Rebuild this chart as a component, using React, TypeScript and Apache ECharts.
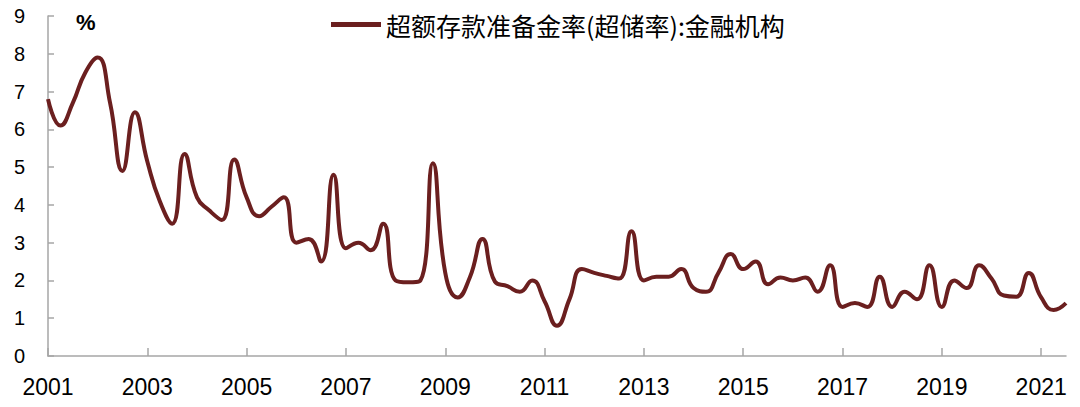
import React, { useEffect, useRef } from "react";
import * as echarts from "echarts";

const years: number[] = [];
for (let y = 2001; y <= 2021; y++) years.push(y);

const quarters: string[] = [];
years.forEach((y) => {
  ["Q1", "Q2", "Q3", "Q4"].forEach((q) => quarters.push(`${y}${q}`));
});
const categories = quarters.slice(0, 83);

const seriesName = "超额存款准备金率(超储率):金融机构";

const excessReserveRatio = [
  6.8, 6.1, 6.7, 7.5, 7.9, 6.7, 4.9, 6.45,
  5.15, 4.1, 3.5, 5.35, 4.2, 3.85, 3.6, 5.2,
  4.2, 3.7, 3.95, 4.2, 3.0, 3.1, 2.5, 4.8,
  2.85, 3.0, 2.8, 3.5, 2.0, 1.95, 2.0, 5.1,
  2.2, 1.55, 2.1, 3.1, 1.97, 1.85, 1.7, 2.0,
  1.45, 0.8, 1.5, 2.3, 2.2, 2.12, 2.05, 3.3,
  2.0, 2.1, 2.1, 2.3, 1.8, 1.7, 2.2, 2.7,
  2.3, 2.5, 1.9, 2.08, 2.0, 2.08, 1.7, 2.4,
  1.3, 1.4, 1.3, 2.1, 1.3, 1.7, 1.5, 2.4,
  1.3, 2.0, 1.8, 2.4, 2.05, 1.6, 1.57, 2.2,
  1.55, 1.22, 1.4,
];

export default function App() {
  const ref = useRef<HTMLDivElement>(null);
  useEffect(() => {
    if (!ref.current) return;
    const chart = echarts.init(ref.current, undefined, { renderer: "svg" });
    chart.setOption({
      animation: false,
      backgroundColor: "#ffffff",
      grid: { left: 48, right: 14, top: 16, bottom: 51, containLabel: false },
      legend: {
        left: 326,
        top: 7,
        icon: "rect",
        itemWidth: 50,
        itemHeight: 5,
        itemGap: 5,
        textStyle: {
          fontFamily: "Noto Sans CJK SC",
          fontSize: 25,
          color: "#000",
        },
        data: [seriesName],
      },
      graphic: [
        {
          type: "text",
          left: 76,
          top: 11,
          style: {
            text: "%",
            fontFamily: "Liberation Sans, Arial",
            fontWeight: "bold",
            fontSize: 22,
            fill: "#000",
          },
        },
      ],
      xAxis: {
        type: "category",
        data: categories,
        boundaryGap: false,
        axisLine: { lineStyle: { color: "#a6a6a6", width: 1.5 } },
        axisTick: {
          inside: true,
          length: 8,
          interval: 7,
          lineStyle: { color: "#a6a6a6", width: 1.5 },
        },
        axisLabel: {
          interval: 7,
          margin: 19,
          fontFamily: "Liberation Sans, Arial",
          fontSize: 23,
          color: "#000",
          formatter: (v: string) => v.slice(0, 4),
        },
        splitLine: { show: false },
      },
      yAxis: {
        type: "value",
        min: 0,
        max: 9,
        interval: 1,
        axisLine: { show: true, lineStyle: { color: "#a6a6a6", width: 1.5 } },
        axisTick: {
          show: true,
          inside: true,
          length: 6,
          lineStyle: { color: "#a6a6a6", width: 1.5 },
        },
        axisLabel: {
          margin: 23,
          fontFamily: "Liberation Sans, Arial",
          fontSize: 20,
          color: "#000",
        },
        splitLine: { show: false },
      },
      series: [
        {
          name: seriesName,
          type: "line",
          data: excessReserveRatio,
          smooth: 0.5,
          showSymbol: false,
          symbol: "none",
          itemStyle: { color: "#6b1f1f" },
          lineStyle: { color: "#6b1f1f", width: 4 },
        },
      ],
    });
    return () => chart.dispose();
  }, []);
  return <div ref={ref} style={{ width: 1080, height: 407, position: "absolute", left: 0, top: 0 }} />;
}
